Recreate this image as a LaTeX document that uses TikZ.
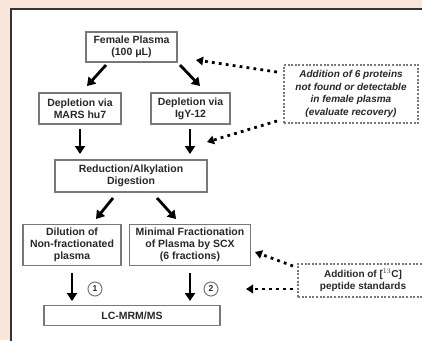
\documentclass[tikz,border=0pt]{standalone}
\usepackage{fontspec}
\setmainfont{Liberation Sans}
\usetikzlibrary{arrows.meta}
\definecolor{peach}{RGB}{249,229,218}
\definecolor{boxline}{RGB}{120,120,120}
\definecolor{txt}{RGB}{40,40,40}
\begin{document}
\begin{tikzpicture}[x=1pt,y=-1pt,
  stagebox/.style={draw=boxline,line width=1.3pt,fill=white,align=center,
    inner sep=0pt,text=txt,font=\fontsize{10.5}{12}\selectfont\bfseries},
  notebox/.style={draw=boxline,line width=1.1pt,dash pattern=on 2pt off 1.6pt,
    align=center,inner sep=0pt,text=txt,font=\fontsize{10}{12.5}\selectfont\bfseries\itshape},
  flow/.style={line width=2.8pt,-{Triangle[length=8pt,width=10pt]}},
  dotflow/.style={line width=2.8pt,dash pattern=on 2.8pt off 4.2pt,
    -{Triangle[length=7pt,width=8.5pt]}},
  numdisc/.style={circle,draw=boxline,line width=1pt,minimum size=14pt,inner sep=0pt,
    text=txt,font=\fontsize{8.5}{9}\selectfont\bfseries}]
\useasboundingbox (0,0) rectangle (422,340);
% page and panel
\fill[peach] (0,0) rectangle (422,340);
\fill[white] (11,9) rectangle (423,341);
\draw[black!80,line width=1.5pt] (11,341) -- (11,9) -- (423,9);

% stages
\node[stagebox,minimum width=91pt,minimum height=30pt] (fem) at (131.5,47)
  {Female Plasma\\(100 μL)};
\node[stagebox,minimum width=82pt,minimum height=31pt] (mars) at (80,108.5)
  {Depletion via\\MARS hu7};
\node[stagebox,minimum width=79pt,minimum height=31pt] (igy) at (190.5,108.5)
  {Depletion via\\IgY-12};
\node[stagebox,minimum width=152pt,minimum height=32pt] (red) at (131,176)
  {Reduction/Alkylation\\Digestion};
\node[stagebox,minimum width=98pt,minimum height=41pt] (dil) at (72,245)
  {Dilution of\\Non-fractionated\\plasma};
\node[stagebox,minimum width=121pt,minimum height=41pt] (min) at (190,245)
  {Minimal Fractionation\\of Plasma by SCX\\(6 fractions)};
\node[stagebox,minimum width=176pt,minimum height=20pt] (lc) at (132,315.5)
  {LC-MRM/MS};

% notes
\node[notebox,minimum width=134pt,minimum height=58pt] (add1) at (351,94)
  {Addition of 6 proteins\\not found or detectable\\in female plasma\\(evaluate recovery)};
\node[notebox,minimum width=130pt,minimum height=33pt,
  font=\fontsize{10}{12.5}\selectfont\bfseries] (add2) at (363,280.5)
  {Addition of [$^{13}$C]\\peptide standards};

% numbered routes
\node[numdisc] (n1) at (95,289) {1};
\node[numdisc] (n2) at (211,289) {2};

% arrow end points between the stages
\coordinate (a1s) at (106,65);  \coordinate (a1e) at (87,86);
\coordinate (a2s) at (180,65);  \coordinate (a2e) at (200,86);
\coordinate (a3s) at (80,129);  \coordinate (a3e) at (80,154);
\coordinate (a4s) at (190,129); \coordinate (a4e) at (190,154);
\coordinate (a5s) at (113,198); \coordinate (a5e) at (96,219);
\coordinate (a6s) at (157,198); \coordinate (a6e) at (176,219);
\coordinate (a7s) at (72,273);  \coordinate (a7e) at (72,301);
\coordinate (a8s) at (190,273); \coordinate (a8e) at (190,301);

% solid flow arrows
\draw[flow] (a1s) -- (a1e);
\draw[flow] (a2s) -- (a2e);
\draw[flow] (a3s) -- (a3e);
\draw[flow] (a4s) -- (a4e);
\draw[flow] (a5s) -- (a5e);
\draw[flow] (a6s) -- (a6e);
\draw[flow] (a7s) -- (a7e);
\draw[flow] (a8s) -- (a8e);

% dotted additions
\coordinate (d1s) at (277,72);  \coordinate (d1e) at (196,60);
\coordinate (d2s) at (277,121); \coordinate (d2e) at (207,142);
\coordinate (d3s) at (293,266); \coordinate (d3e) at (255,252);
\coordinate (d4s) at (293,289); \coordinate (d4e) at (246,289);
\draw[dotflow] (d1s) -- (d1e);
\draw[dotflow] (d2s) -- (d2e);
\draw[dotflow] (d3s) -- (d3e);
\draw[dotflow] (d4s) -- (d4e);
\end{tikzpicture}
\end{document}
